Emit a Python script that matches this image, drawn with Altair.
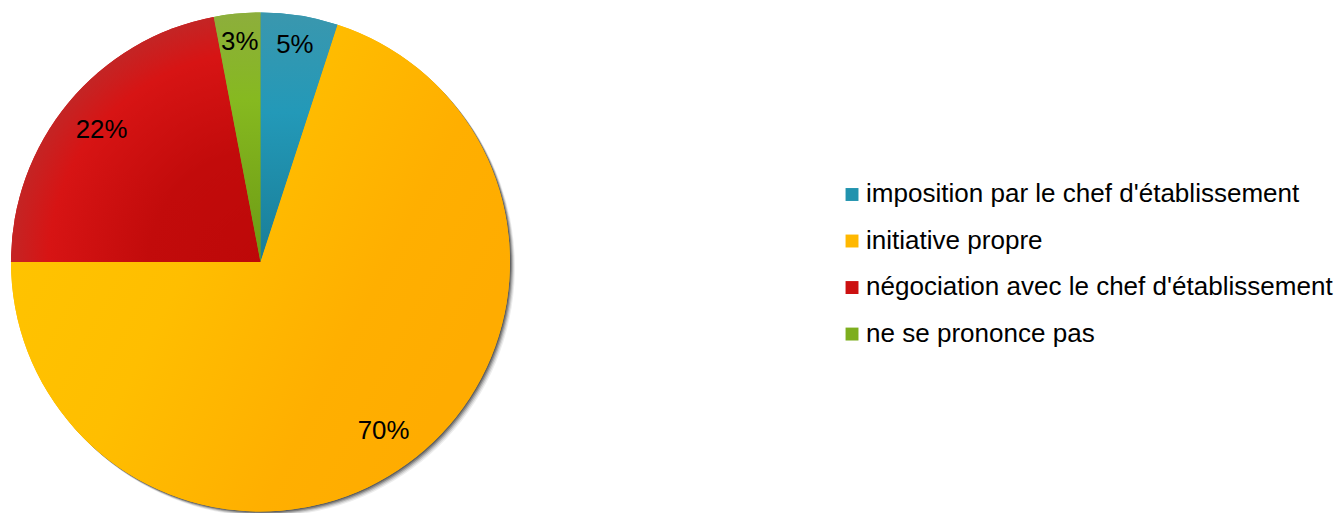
import math
import altair as alt
import pandas as pd

categories = [
    "imposition par le chef d'établissement",
    "initiative propre",
    "négociation avec le chef d'établissement",
    "ne se prononce pas",
]
values = [5, 70, 22, 3]
order = [0, 1, 2, 3]
flat_colors = ["#2193AE", "#FFB800", "#CC1010", "#7DAE1E"]

df = pd.DataFrame({"category": categories, "value": values, "order": order})

CX, CY, R = 254, 254, 251
FS = 26
theta_scale = alt.Scale(domain=[0, 1], range=[0, 2 * math.pi])

base = (
    alt.Chart(df)
    .transform_joinaggregate(total="sum(value)")
    .transform_window(cum="sum(value)", sort=[{"field": "order"}], frame=[None, 0])
    .transform_calculate(
        t0="(datum.cum - datum.value) / datum.total",
        t1="datum.cum / datum.total",
        tm="(datum.cum - datum.value / 2) / datum.total",
        label="datum.value + '%'",
    )
)


def arc_enc(dx=0, dy=0):
    return dict(
        theta=alt.Theta("t0:Q", scale=theta_scale, stack=None),
        theta2="t1:Q",
        x=alt.value(CX + dx),
        y=alt.value(CY + dy),
    )


layers = []
for d, op in [(5, 0.07), (4, 0.11), (3, 0.17), (2, 0.24), (1, 0.28)]:
    layers.append(base.mark_arc(radius=R, fill="#000000", opacity=op).encode(**arc_enc(d, d)))

layers.append(
    base.mark_arc(radius=R).encode(
        color=alt.Color(
            "category:N",
            scale=alt.Scale(domain=categories, range=flat_colors),
            legend=alt.Legend(
                title=None,
                orient="none",
                legendX=836,
                legendY=173,
                symbolType="square",
                symbolSize=169,
                symbolStrokeWidth=0,
                labelFontSize=26.2,
                labelFont="Liberation Sans",
                labelColor="#000000",
                labelOffset=1,
                rowPadding=19.8,
                labelLimit=1000,
            ),
        ),
        **arc_enc(),
    )
)

gradients = {
    categories[0]: {
        "gradient": "linear", "x1": 0.5, "y1": 0, "x2": 0.5, "y2": 1,
        "stops": [
            {"offset": 0, "color": "#3A97AE"},
            {"offset": 0.4, "color": "#2399B8"},
            {"offset": 1, "color": "#197D97"},
        ],
    },
    categories[1]: {
        "gradient": "linear", "x1": 0.1, "y1": 0.3, "x2": 0.9, "y2": 0.7,
        "stops": [
            {"offset": 0, "color": "#FFC300"},
            {"offset": 0.35, "color": "#FFBE00"},
            {"offset": 0.75, "color": "#FFAF00"},
            {"offset": 1, "color": "#FFAC00"},
        ],
    },
    categories[2]: {
        "gradient": "radial", "x1": 1, "y1": 1, "r1": 0, "x2": 1, "y2": 1, "r2": 1,
        "stops": [
            {"offset": 0, "color": "#BD0808"},
            {"offset": 0.45, "color": "#C20B0B"},
            {"offset": 0.85, "color": "#D71414"},
            {"offset": 1, "color": "#C42424"},
        ],
    },
    categories[3]: {
        "gradient": "linear", "x1": 0.5, "y1": 0, "x2": 0.5, "y2": 1,
        "stops": [
            {"offset": 0, "color": "#8DAE3C"},
            {"offset": 0.35, "color": "#86B920"},
            {"offset": 1, "color": "#6C9A14"},
        ],
    },
}

for cat in categories:
    layers.append(
        base.transform_filter(alt.datum.category == cat)
        .mark_arc(radius=R, fill=gradients[cat])
        .encode(**arc_enc())
    )

# label placed so that its box sits just inside the rim (like "inside end" labels)
label_layer = (
    base.transform_calculate(
        hw=f"0.5 * {FS} * (0.556 * (length(datum.label) - 1) + 0.889)",
    )
    .transform_calculate(
        lr=f"{R - 17} - (datum.hw * abs(sin(2 * PI * datum.tm)) + 10 * abs(cos(2 * PI * datum.tm)))"
    )
    .mark_text(fontSize=FS, font="Liberation Sans", color="#000000")
    .encode(
        theta=alt.Theta("tm:Q", scale=theta_scale, stack=None),
        radius=alt.Radius("lr:Q", scale=None),
        text="label:N",
        x=alt.value(CX),
        y=alt.value(CY),
    )
)
layers.append(label_layer)

chart = (
    alt.layer(*layers)
    .properties(width=1336, height=505, padding=0, autosize=alt.AutoSizeParams(type="none"))
    .configure_view(stroke=None)
)

chart.save("out.html", embed_options={"renderer": "svg", "actions": False})
